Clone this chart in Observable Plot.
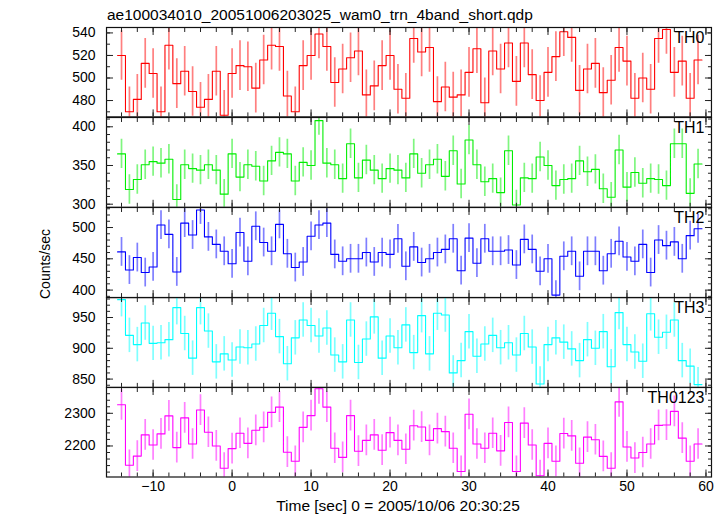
<!DOCTYPE html>
<html>
<head>
<meta charset="utf-8">
<script src="https://cdn.jsdelivr.net/npm/d3@7"></script>
<script src="https://cdn.jsdelivr.net/npm/@observablehq/plot@0.6"></script>
<style>
  body { margin: 0; background: #fff; }
  #chart { position: relative; width: 726px; height: 516px; font-family: "Liberation Sans", Arial, sans-serif; overflow: hidden; }
  #chart svg { position: absolute; left: 0; overflow: visible; }
</style>
</head>
<body>
<div id="chart"></div>
<script>
// ---- data (bin centres in seconds, 1 s bins) ----
const time = [-14,-13,-12,-11,-10,-9,-8,-7,-6,-5,-4,-3,-2,-1,
  0,1,2,3,4,5,6,7,8,9,10,11,12,13,14,15,16,17,18,19,
  20,21,22,23,24,25,26,27,28,29,30,31,32,33,34,35,36,37,38,39,
  40,41,42,43,44,45,46,47,48,49,50,51,52,53,54,55,56,57,58,59];

const th0 = [520,470,481,513,504,470,529,495,506,488,474,481,506,467,
  504,511,510,491,516,529,528,484,470,511,
  520,539,528,496,508,518,524,485,493,511,
  520,490,482,535,523,527,479,492,483,485,
  505,526,478,524,508,531,497,531,503,480,
  505,519,541,536,489,508,513,487,498,527,
  515,482,500,490,535,543,505,515,482,516];

const th1 = [365,319,332,351,355,353,358,306,351,346,344,351,344,313,
  365,335,351,349,330,356,367,365,330,354,
  350,408,353,351,333,378,334,357,344,333,
  346,344,334,365,340,351,358,336,369,326,
  383,351,329,333,315,369,299,334,333,361,
  350,324,332,333,356,342,345,320,309,370,
  322,341,327,333,332,324,378,378,314,352];

const th2 = [461,432,452,428,437,504,489,429,507,488,528,485,473,462,
  442,492,446,502,476,462,505,458,436,445,
  486,504,507,457,446,450,450,460,445,460,
  457,482,438,469,444,450,460,465,482,431,
  483,443,482,462,462,464,440,481,465,430,
  450,392,454,462,422,462,462,431,458,478,
  453,446,473,428,480,471,477,450,487,498];

const th3 = [979,921,906,941,908,909,914,966,924,884,966,928,878,891,
  881,902,901,907,937,957,919,875,917,946,
  937,920,933,889,878,946,877,915,951,884,
  920,901,938,893,953,891,957,954,860,880,
  927,887,907,921,901,909,889,924,902,842,
  906,917,910,899,880,914,900,927,870,958,
  906,894,879,956,918,926,946,880,871,841];

const th0123 = [2326,2141,2169,2234,2203,2237,2292,2195,2286,2206,2310,2242,2200,2132,
  2192,2239,2208,2248,2257,2303,2319,2181,2153,2257,
  2293,2375,2319,2193,2165,2293,2184,2217,2234,2187,
  2241,2217,2190,2262,2258,2217,2253,2244,2193,2122,
  2297,2206,2193,2239,2185,2272,2122,2270,2203,2109,
  2208,2153,2238,2231,2147,2227,2219,2168,2132,2335,
  2197,2163,2180,2206,2263,2264,2306,2224,2153,2206];

// 1-sigma error bar half-lengths (counts/sec)
const errors = [22, 19, 23, 28, 47];

const bandNames = ["TH0", "TH1", "TH2", "TH3", "TH0123"];
const bandColors = ["#ff0000", "#00ee00", "#0000ff", "#00ffff", "#ff00ff"];

// y tick labels per band
const yTicks = [[480,500,520,540],[300,350,400],[400,450,500],[850,900,950],[2200,2300]];
const xTicks = [-10,0,10,20,30,40,50,60];

const titleText = "ae100034010_20051006203025_wam0_trn_4band_short.qdp";
const xTitle = "Time [sec] 0 = 2005/10/06 20:30:25";
const yTitle = "Counts/sec";

// ---- layout ----
const W = 726;
const ML = 106, MR = 15;
const panelEdges = [27.3, 116.7, 206.5, 296.6, 386.5, 476];
const yDomains = [[465.5,544.8],[296,412],[388,532],[836.5,982.5],[2105,2379]];
const yMinorStep = [10,10,10,10,20];
const xDomain = [-15.9, 60.7];
const xMinor = d3.range(-14, 61, 2);

const series = [th0, th1, th2, th3, th0123];
const chart = document.getElementById("chart");
const fmtX = d => d < 0 ? "\u2212" + Math.abs(d) : String(d);
const fmtY = d => String(d);

series.forEach((vals, i) => {
  const rows = time.map((t, k) => ({t, v: vals[k]}));
  const steps = rows.map(d => ({x: d.t - 0.5, v: d.v}));
  steps.push({x: time[time.length - 1] + 0.5, v: vals[vals.length - 1]});
  const top = panelEdges[i], bottom = panelEdges[i + 1];
  const mt = 10, mb = i === 4 ? 40 : 10;
  const dom = yDomains[i];
  const minor = d3.range(Math.ceil(dom[0] / yMinorStep[i]) * yMinorStep[i], dom[1], yMinorStep[i]);
  const color = bandColors[i];
  const err = errors[i];
  const blank = () => "";
  const svg = Plot.plot({
    width: W,
    height: (bottom - top) + mt + mb,
    marginTop: mt, marginBottom: mb, marginLeft: ML, marginRight: MR,
    x: {domain: xDomain, axis: null},
    y: {domain: dom, axis: null},
    style: {fontFamily: '"Liberation Sans", Arial, sans-serif', fontSize: "14px", background: "transparent", overflow: "visible", color: "#000"},
    marks: [
      Plot.ruleX(rows, {x: "t", y1: d => d.v - err, y2: d => d.v + err, stroke: color, strokeOpacity: 0.5, strokeWidth: 1.7, clip: true}),
      Plot.line(steps, {x: "x", y: "v", curve: "step-after", stroke: color, strokeWidth: 1.1, clip: true}),
      Plot.frame({stroke: "#111", strokeWidth: 1.2}),
      Plot.axisY(minor, {anchor: "left", tickSize: -4, tickFormat: blank, label: null, stroke: "#222"}),
      Plot.axisY(minor, {anchor: "right", tickSize: -4, tickFormat: blank, label: null, stroke: "#222"}),
      Plot.axisY(yTicks[i], {anchor: "left", tickSize: -7, tickFormat: blank, label: null, stroke: "#222"}),
      Plot.axisY(yTicks[i], {anchor: "right", tickSize: -7, tickFormat: blank, label: null, stroke: "#222"}),
      Plot.axisY(yTicks[i], {anchor: "left", tickSize: 0, tickPadding: 11, tickFormat: fmtY, label: null, fontSize: 14, fill: "#000"}),
      Plot.axisX(xMinor, {anchor: "top", tickSize: -4, tickFormat: blank, label: null, stroke: "#222"}),
      Plot.axisX(xMinor, {anchor: "bottom", tickSize: -4, tickFormat: blank, label: null, stroke: "#222"}),
      Plot.axisX(xTicks, {anchor: "top", tickSize: -7, tickFormat: blank, label: null, stroke: "#222"}),
      Plot.axisX(xTicks, {anchor: "bottom", tickSize: -7, tickFormat: blank, label: null, stroke: "#222"}),
      i === 4 ? Plot.axisX(xTicks, {anchor: "bottom", tickSize: 0, tickPadding: 4, tickFormat: fmtX, label: null, fontSize: 14, fill: "#000"}) : null,
      Plot.text([bandNames[i]], {text: d => d, frameAnchor: "top-right", textAnchor: "end", lineAnchor: "top", dx: -7, dy: 4.5, fontSize: 16, fill: "#000"})
    ]
  });
  svg.style.top = (top - mt) + "px";
  chart.appendChild(svg);
});

// ---- titles ----
const ov = d3.create("svg").attr("width", W).attr("height", 516)
  .style("top", "0px").style("pointer-events", "none")
  .attr("font-family", '"Liberation Sans", Arial, sans-serif');
ov.append("text").attr("x", 107).attr("y", 19.5).attr("font-size", 15.5).attr("fill", "#000").text(titleText);
ov.append("text").attr("x", 398).attr("y", 511).attr("font-size", 15.5).attr("text-anchor", "middle").attr("fill", "#000").text(xTitle);
ov.append("text").attr("transform", "translate(50,264) rotate(-90)").attr("font-size", 14).attr("text-anchor", "middle").attr("fill", "#000").text(yTitle);
chart.appendChild(ov.node());
</script>
</body>
</html>
